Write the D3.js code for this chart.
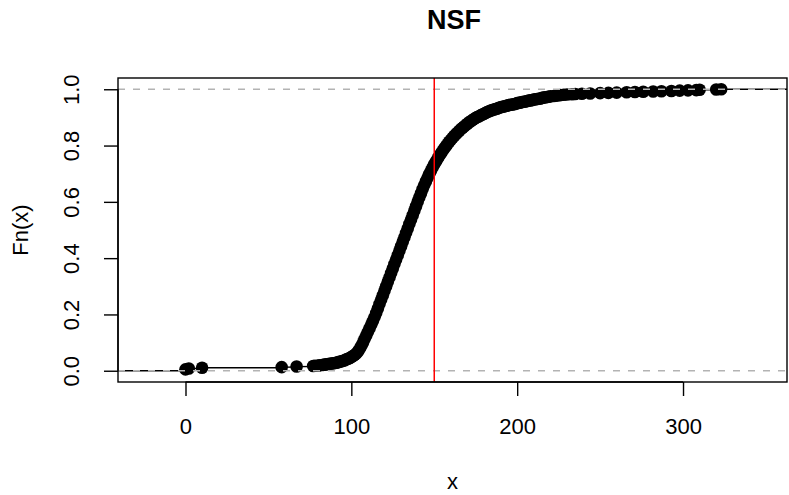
<!DOCTYPE html>
<html>
<head>
<meta charset="utf-8">
<script src="https://cdn.jsdelivr.net/npm/d3@7/dist/d3.min.js"></script>
<style>
  html, body { margin: 0; padding: 0; background: #ffffff; }
  svg { display: block; }
  text { font-family: "Liberation Sans", Arial, Helvetica, sans-serif; fill: #000; }
</style>
</head>
<body>
<svg id="chart" width="789" height="495"></svg>
<script>
const chartTitle = "NSF";
const xLabel = "x";
const yLabel = "Fn(x)";
const xTicks = [0, 100, 200, 300];
const yTicks = [0.0, 0.2, 0.4, 0.6, 0.8, 1.0];
const cutoff = 150;

// observed (unique) values and how many observations share each value
const values = [
  0, 2, 10, 58, 67, 77, 78, 80, 81, 83, 84, 85, 86, 87, 88, 89, 90, 91, 92, 93,
  94, 95, 96, 97, 98, 99, 100, 101, 102, 103, 104, 105, 106, 107, 108, 109, 110,
  111, 112, 113, 114, 115, 116, 117, 118, 119, 120, 121, 122, 123, 124, 125, 126,
  127, 128, 129, 130, 131, 132, 133, 134, 135, 136, 137, 138, 139, 140, 141, 142,
  143, 144, 145, 146, 147, 148, 149, 150, 151, 152, 153, 154, 155, 156, 157, 158,
  159, 160, 161, 162, 163, 164, 165, 166, 167, 168, 169, 170, 171, 172, 173, 174,
  175, 176, 177, 178, 179, 180, 181, 182, 183, 184, 185, 186, 187, 188, 189, 190,
  191, 192, 193, 194, 195, 196, 197, 198, 199, 200, 201, 202, 203, 204, 205, 206,
  207, 208, 209, 210, 211, 212, 213, 214, 215, 216, 217, 218, 219, 220, 222, 224,
  226, 228, 230, 233, 235, 239, 244, 250, 255, 260, 266, 271, 276, 282, 287, 293,
  298, 303, 308, 310, 320, 323
];
const counts = [
  5, 3, 3, 2, 2, 2, 1, 1, 1, 1, 1, 1, 1, 1, 1, 1, 1, 1, 2, 1,
  2, 2, 2, 3, 2, 3, 3, 4, 4, 5, 7, 9, 11, 12, 13, 13, 13,
  13, 13, 13, 14, 15, 16, 16, 16, 16, 16, 16, 16, 16, 16, 16, 16,
  16, 16, 16, 16, 16, 16, 16, 16, 16, 16, 16, 16, 16, 16, 16, 15,
  15, 14, 14, 13, 13, 12, 12, 11, 10, 10, 10, 9, 9, 9, 8, 8,
  8, 7, 7, 7, 6, 6, 6, 6, 5, 5, 5, 5, 5, 4, 4, 4,
  4, 3, 3, 3, 3, 3, 3, 3, 3, 2, 2, 2, 2, 2, 2, 2,
  2, 1, 2, 1, 2, 1, 1, 1, 2, 2, 1, 1, 2, 1, 1, 2,
  1, 1, 1, 2, 1, 1, 1, 1, 2, 1, 1, 1, 1, 2, 1, 1,
  2, 1, 1, 1, 1, 1, 1, 1, 1, 1, 1, 1, 1, 1, 1, 1,
  1, 1, 1, 1, 1, 1
];

// ---- layout ----
const W = 789, H = 495;
const plot = { left: 118, right: 787, top: 78, bottom: 382 };
const svg = d3.select("#chart");
svg.append("rect").attr("width", W).attr("height", H).attr("fill", "#ffffff");

const x = d3.scaleLinear().domain([-40.7, 362.7]).range([plot.left, plot.right]);
const y = d3.scaleLinear().domain([-0.04, 1.04]).range([plot.bottom, plot.top]);

// ECDF knots
const n = d3.sum(counts);
const cum = d3.cumsum(counts);
const knots = values.map((v, i) => ({ x: v, F: cum[i] / n }));

svg.append("defs").append("clipPath").attr("id", "clip")
  .append("rect")
  .attr("x", plot.left).attr("y", plot.top)
  .attr("width", plot.right - plot.left).attr("height", plot.bottom - plot.top);

const g = svg.append("g").attr("clip-path", "url(#clip)");

// step segments (including the extensions to the plot edges)
const [dx0, dx1] = x.domain();
const segs = [{ x0: dx0, x1: knots[0].x, F: 0 }];
knots.forEach((k, i) => {
  segs.push({ x0: k.x, x1: i < knots.length - 1 ? knots[i + 1].x : dx1, F: k.F });
});
g.selectAll("line.step").data(segs).join("line")
  .attr("class", "step")
  .attr("x1", d => x(d.x0)).attr("x2", d => x(d.x1))
  .attr("y1", d => y(d.F)).attr("y2", d => y(d.F))
  .attr("stroke", "#000").attr("stroke-width", 1.4);

// points
g.selectAll("circle.pt").data(knots).join("circle")
  .attr("class", "pt")
  .attr("cx", d => x(d.x)).attr("cy", d => y(d.F))
  .attr("r", 6.3).attr("fill", "#000");

// grey dashed reference lines at 0 and 1
g.selectAll("line.ref").data([0, 1]).join("line")
  .attr("class", "ref")
  .attr("x1", plot.left).attr("x2", plot.right)
  .attr("y1", d => y(d)).attr("y2", d => y(d))
  .attr("stroke", "#b3b3b3").attr("stroke-width", 1.5)
  .attr("stroke-dasharray", "7,8");

// red vertical line at the cutoff
g.append("line")
  .attr("x1", x(cutoff)).attr("x2", x(cutoff))
  .attr("y1", plot.top).attr("y2", plot.bottom)
  .attr("stroke", "#ff0000").attr("stroke-width", 1.5);

// box
svg.append("rect")
  .attr("x", plot.left).attr("y", plot.top)
  .attr("width", plot.right - plot.left).attr("height", plot.bottom - plot.top)
  .attr("fill", "none").attr("stroke", "#000").attr("stroke-width", 1.4);

// axes
const xAxis = d3.axisBottom(x).tickValues(xTicks).tickSize(14).tickPadding(22)
  .tickFormat(d3.format("d"));
const xa = svg.append("g").attr("transform", `translate(0,${plot.bottom})`).call(xAxis);
xa.select(".domain").attr("d", `M${x(xTicks[0])},0H${x(xTicks[xTicks.length - 1])}`)
  .attr("stroke", "#000").attr("stroke-width", 1.4);
xa.selectAll(".tick line").attr("stroke", "#000").attr("stroke-width", 1.4);
xa.selectAll(".tick text")
  .attr("y", null).attr("dy", null)
  .attr("transform", "translate(0,52)")
  .style("font-size", "22px").style("font-family", "'Liberation Sans', Arial, sans-serif")
  .attr("fill", "#000");

const yAxis = d3.axisLeft(y).tickValues(yTicks).tickSize(14).tickFormat(d3.format(".1f"));
const ya = svg.append("g").attr("transform", `translate(${plot.left},0)`).call(yAxis);
ya.select(".domain").attr("d", `M0,${y(yTicks[0])}V${y(yTicks[yTicks.length - 1])}`)
  .attr("stroke", "#000").attr("stroke-width", 1.4);
ya.selectAll(".tick line").attr("stroke", "#000").attr("stroke-width", 1.4);
ya.selectAll(".tick text")
  .attr("x", null).attr("dy", null)
  .attr("text-anchor", "middle")
  .attr("transform", `translate(${79 - plot.left},0) rotate(-90)`)
  .style("font-size", "22px").style("font-family", "'Liberation Sans', Arial, sans-serif")
  .attr("fill", "#000");

// title and axis labels
svg.append("text")
  .attr("x", 454).attr("y", 29)
  .attr("text-anchor", "middle")
  .style("font-size", "27px").style("font-weight", "bold")
  .text(chartTitle);

svg.append("text")
  .attr("x", (plot.left + plot.right) / 2).attr("y", 489)
  .attr("text-anchor", "middle")
  .style("font-size", "22px")
  .text(xLabel);

svg.append("text")
  .attr("transform", `translate(28,${(plot.top + plot.bottom) / 2}) rotate(-90)`)
  .attr("text-anchor", "middle")
  .style("font-size", "22px")
  .text(yLabel);
</script>
</body>
</html>
